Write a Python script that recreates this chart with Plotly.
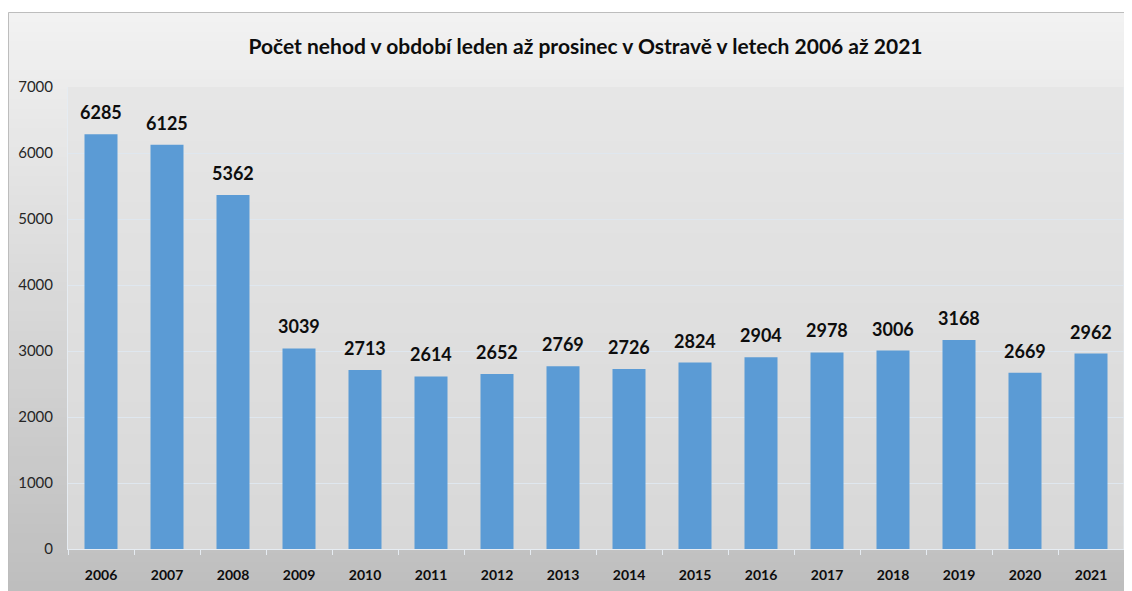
import plotly.graph_objects as go

years = ["2006", "2007", "2008", "2009", "2010", "2011", "2012", "2013",
         "2014", "2015", "2016", "2017", "2018", "2019", "2020", "2021"]
accidents = [6285, 6125, 5362, 3039, 2713, 2614, 2652, 2769,
             2726, 2824, 2904, 2978, 3006, 3168, 2669, 2962]
y_ticks = [0, 1000, 2000, 3000, 4000, 5000, 6000, 7000]

title_text = "Počet nehod v období leden až prosinec v Ostravě v letech 2006 až 2021"

FONT = "Lato, sans-serif"
# page body has an 8px margin, so the figure is drawn 8px smaller and offset
OFF = 8
W, H = 1132 - OFF, 591 - OFF
L, R, T, B = 60, 8, 79, 42
pw, ph = W - L - R, H - T - B


def px_x(px):
    # px in screen pixels
    return (px - OFF - L) / pw


def px_y(py):
    return (H - B - (py - OFF)) / ph


def mix(c1, c2, t):
    return "rgb(%d,%d,%d)" % tuple(round(a + (b - a) * t) for a, b in zip(c1, c2))


shapes = []
# outer chart area gradient (light top, darker bottom); bands overlap to hide seams
top, bot = 12, 591
n = 60
for i in range(n):
    y0 = top + (bot - top) * i / n
    y1 = min(bot, top + (bot - top) * (i + 1.6) / n)
    shapes.append(dict(type="rect", xref="paper", yref="paper", layer="below",
                       x0=px_x(8), x1=px_x(1132), y0=px_y(y1), y1=px_y(y0),
                       fillcolor=mix((242, 242, 242), (190, 190, 190), i / (n - 1)),
                       line=dict(width=0)))
# plot area gradient
for i in range(n):
    shapes.append(dict(type="rect", xref="paper", yref="paper", layer="below",
                       x0=0, x1=1, y0=max(0, 1 - (i + 1.6) / n), y1=1 - i / n,
                       fillcolor=mix((230, 230, 230), (216, 216, 216), i / (n - 1)),
                       line=dict(width=0)))
# outer border
shapes.append(dict(type="rect", xref="paper", yref="paper", layer="below",
                   x0=px_x(8.5), x1=px_x(1140), y0=px_y(600), y1=px_y(12.5),
                   fillcolor="rgba(0,0,0,0)", line=dict(color="#bdbdbd", width=1)))
# right edge of plot area
shapes.append(dict(type="line", xref="paper", yref="paper", layer="below",
                   x0=1, x1=1, y0=0, y1=1, line=dict(color="#e6ecf2", width=1)))

fig = go.Figure()
fig.add_trace(go.Bar(x=years, y=accidents, marker=dict(color="#5b9bd5", line=dict(width=0)),
                     hoverinfo="x+y"))

# value labels above bars (x given as category index)
for i, v in enumerate(accidents):
    fig.add_annotation(x=i, y=v, text="<b>%d</b>" % v, showarrow=False,
                       yanchor="bottom", yshift=9,
                       font=dict(family=FONT, size=18, color="#0d0d0d"))

fig.update_layout(
    width=W, height=H,
    margin=dict(l=L, r=R, t=T, b=B),
    paper_bgcolor="white",
    plot_bgcolor="rgba(0,0,0,0)",
    bargap=0.5,
    showlegend=False,
    shapes=shapes,
    title=dict(text="<b>" + title_text + "</b>", x=px_x(585.5), xref="paper", xanchor="center",
               y=1 - (47 - OFF) / H, yanchor="middle",
               font=dict(family=FONT, size=21, color="#0d0d0d")),
    xaxis=dict(
        type="category", range=[-0.5, len(years) - 0.5],
        showgrid=False, showline=True, linecolor="#e6ecf2", linewidth=1,
        ticks="outside", tickson="boundaries", ticklen=5, tickcolor="#e6ecf2",
        tickfont=dict(family=FONT, size=14, color="#0d0d0d"),
        tickprefix="<b>", ticksuffix="</b>", ticklabelstandoff=13,
    ),
    yaxis=dict(
        range=[0, 7000], tickvals=y_ticks, showgrid=True, gridcolor="#dfe7ef", gridwidth=1,
        zeroline=False, showline=True, linecolor="#e6ecf2", linewidth=1,
        ticks="", ticklabelstandoff=11,
        tickfont=dict(family=FONT, size=15, color="#262626"),
    ),
)

fig.write_html("out.html")
